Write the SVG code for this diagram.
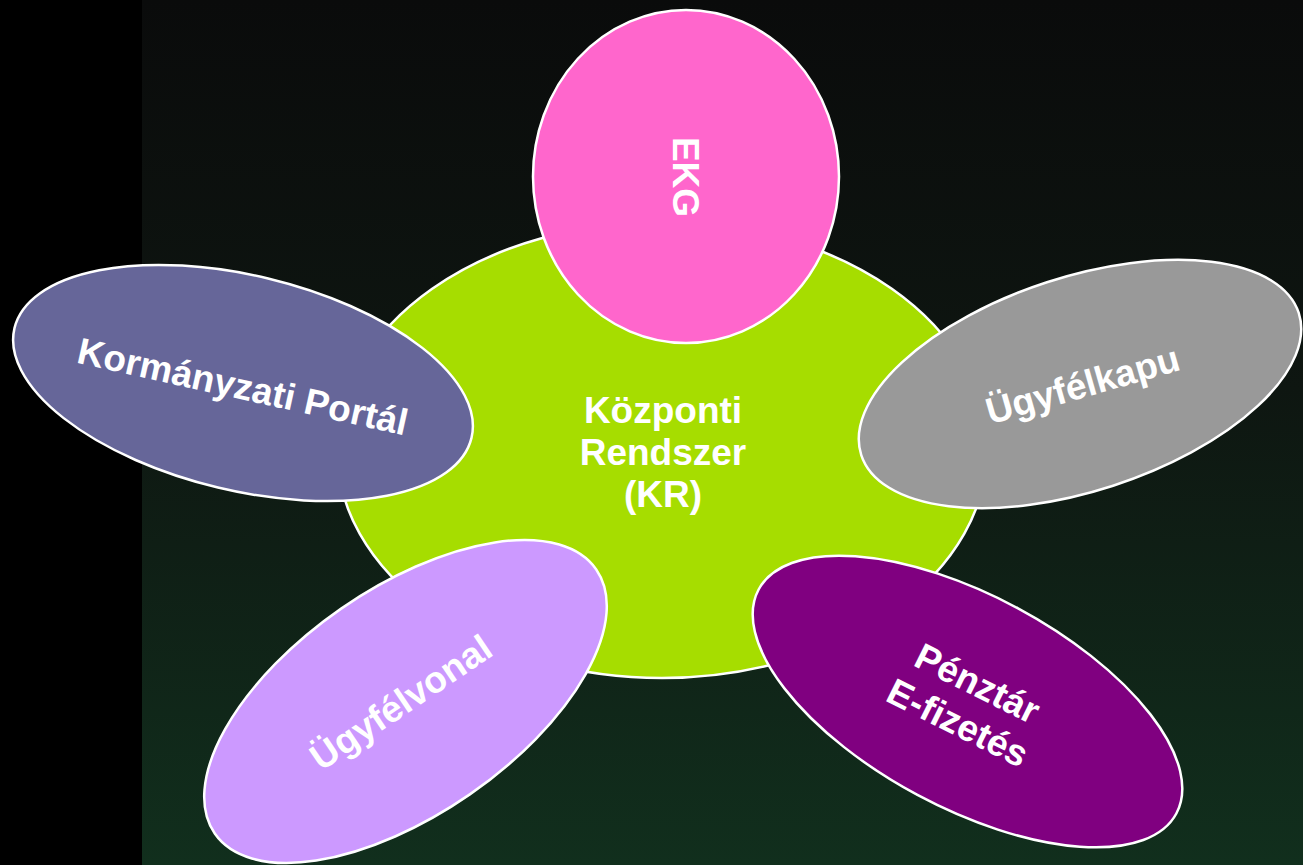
<svg xmlns="http://www.w3.org/2000/svg" width="1303" height="865" viewBox="0 0 1303 865">
  <defs>
    <linearGradient id="bg" x1="0" y1="0" x2="0" y2="1">
      <stop offset="0" stop-color="#0a0b0b"/>
      <stop offset="0.45" stop-color="#0e1611"/>
      <stop offset="1" stop-color="#112f1d"/>
    </linearGradient>
    <style>
      .node { stroke: #ffffff; stroke-width: 2.5; }
      .lbl { font-family: "Liberation Sans", Arial, sans-serif; font-weight: bold; font-size: 37px; fill: #ffffff; text-anchor: middle; }
    </style>
  </defs>
  <rect x="0" y="0" width="1303" height="865" fill="url(#bg)"/>
  <rect x="0" y="0" width="142" height="865" fill="#000000"/>

  <g id="connectors"></g>

  <g id="kr">
    <ellipse class="node" cx="662" cy="450" rx="325" ry="228" fill="#a6dd00"/>
    <text class="lbl"><tspan x="663" y="423">Központi</tspan><tspan x="663" y="465">Rendszer</tspan><tspan x="663" y="507">(KR)</tspan></text>
  </g>

  <g id="ekg">
    <ellipse class="node" cx="686" cy="176.5" rx="153" ry="166.5" fill="#ff66cc"/>
    <text class="lbl" transform="translate(686 177) rotate(90)" x="0" y="13">EKG</text>
  </g>

  <g id="kormanyzati">
    <ellipse class="node" cx="0" cy="0" rx="235" ry="107.5" fill="#666699" transform="translate(243 383) rotate(13.5)"/>
    <text class="lbl" transform="translate(240 399) rotate(12.5)" x="0" y="0">Kormányzati Portál</text>
  </g>

  <g id="ugyfelkapu">
    <ellipse class="node" cx="0" cy="0" rx="230" ry="107" fill="#999999" transform="translate(1080 384) rotate(-18)"/>
    <text class="lbl" transform="translate(1086 397) rotate(-16)" x="0" y="0">Ügyfélkapu</text>
  </g>

  <g id="ugyfelvonal">
    <ellipse class="node" cx="0" cy="0" rx="232" ry="113" fill="#cc99ff" transform="translate(405.5 701.5) rotate(-34.7)"/>
    <text class="lbl" transform="translate(408 713) rotate(-34)" x="0" y="0">Ügyfélvonal</text>
  </g>

  <g id="penztar">
    <ellipse class="node" cx="0" cy="0" rx="237" ry="106" fill="#800080" transform="translate(967.5 701.5) rotate(28.2)"/>
    <text class="lbl" transform="translate(962 714.5) rotate(26.5)"><tspan x="0" y="-22">Pénztár</tspan><tspan x="0" y="22">E-fizetés</tspan></text>
  </g>
</svg>
